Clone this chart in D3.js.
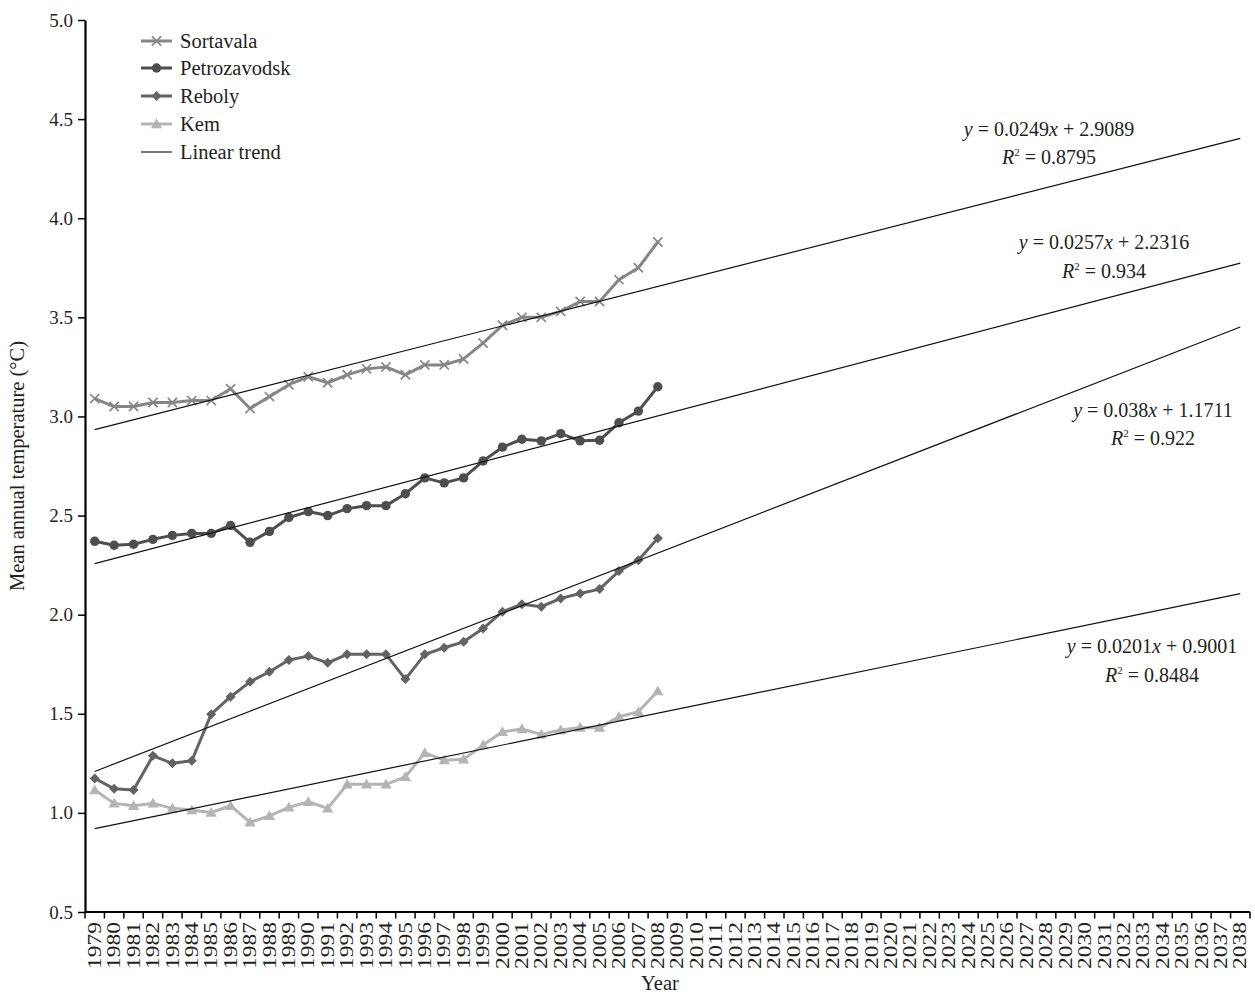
<!DOCTYPE html>
<html>
<head>
<meta charset="utf-8">
<script src="https://cdn.jsdelivr.net/npm/d3@7"></script>
<style>
  html, body { margin: 0; padding: 0; background: #fff; }
  svg { display: block; font-family: "Liberation Serif", "Times New Roman", serif; }
</style>
</head>
<body>
<svg id="chart" width="1255" height="996"></svg>
<script>
// Categories (years) shown on the x axis
const years = [
  "1979","1980","1981","1982","1983","1984","1985","1986","1987","1988",
  "1989","1990","1991","1992","1993","1994","1995","1996","1997","1998",
  "1999","2000","2001","2002","2003","2004","2005","2006","2007","2008",
  "2009","2010","2011","2012","2013","2014","2015","2016","2017","2018",
  "2019","2020","2021","2022","2023","2024","2025","2026","2027","2028",
  "2029","2030","2031","2032","2033","2034","2035","2036","2037","2038"
];

// Observed years (1979–2008)
const obsYears = years.slice(0, 30);

// Mean annual temperature (°C) per station, 1979–2008
const sortavala = [3.09, 3.05, 3.05, 3.07, 3.07, 3.08, 3.08, 3.14, 3.04, 3.10,
                   3.16, 3.20, 3.17, 3.21, 3.24, 3.25, 3.21, 3.26, 3.26, 3.29,
                   3.37, 3.46, 3.50, 3.50, 3.53, 3.58, 3.58, 3.69, 3.75, 3.88];
const petrozavodsk = [2.37, 2.35, 2.355, 2.38, 2.40, 2.41, 2.41, 2.45, 2.365, 2.42,
                      2.49, 2.52, 2.50, 2.535, 2.55, 2.55, 2.61, 2.69, 2.665, 2.69,
                      2.775, 2.845, 2.885, 2.877, 2.913, 2.877, 2.88, 2.968, 3.027, 3.15];
const reboly = [1.174, 1.122, 1.115, 1.288, 1.25, 1.263, 1.498, 1.586, 1.661, 1.712,
                1.771, 1.791, 1.757, 1.80, 1.80, 1.80, 1.675, 1.80, 1.833, 1.863,
                1.93, 2.015, 2.053, 2.04, 2.082, 2.107, 2.129, 2.22, 2.275, 2.385];
const kem = [1.115, 1.048, 1.036, 1.048, 1.023, 1.014, 1.002, 1.036, 0.952, 0.985,
             1.028, 1.056, 1.023, 1.144, 1.144, 1.144, 1.182, 1.303, 1.266, 1.27,
             1.342, 1.409, 1.423, 1.396, 1.418, 1.431, 1.43, 1.485, 1.51, 1.615];

// Linear trend coefficients (x = year index starting at 1)
const trendSlopes = [0.0249, 0.0257, 0.038, 0.0201];
const trendIntercepts = [2.9089, 2.2316, 1.1711, 0.9001];
const trendR2 = ["0.8795", "0.934", "0.922", "0.8484"];

// Y axis ticks
const yTicks = [0.5, 1.0, 1.5, 2.0, 2.5, 3.0, 3.5, 4.0, 4.5, 5.0];

const seriesNames = ["Sortavala", "Petrozavodsk", "Reboly", "Kem"];
const seriesValues = [sortavala, petrozavodsk, reboly, kem];
const seriesColors = ["#868686", "#4e4e4e", "#636363", "#b4b4b4"];
const seriesMarkers = ["cross", "circle", "diamond", "triangle"];

const svg = d3.select("#chart");
const plotLeft = 85, plotRight = 1250, plotTop = 20, plotBottom = 912;

const x = d3.scaleBand().domain(years).range([plotLeft, plotRight]).paddingInner(0).paddingOuter(0);
const xc = d => x(d) + x.bandwidth() / 2;
const y = d3.scaleLinear().domain([0.5, 5.0]).range([plotBottom, plotTop]);

// Marker drawing
function drawMarker(g, type, cx, cy, color) {
  if (type === "cross") {
    const s = 4.6;
    g.append("path")
      .attr("d", `M${cx - s},${cy - s}L${cx + s},${cy + s}M${cx - s},${cy + s}L${cx + s},${cy - s}`)
      .attr("stroke", color).attr("stroke-width", 1.7).attr("fill", "none");
  } else if (type === "circle") {
    g.append("circle").attr("cx", cx).attr("cy", cy).attr("r", 4.7).attr("fill", color);
  } else if (type === "diamond") {
    const s = 5;
    g.append("path")
      .attr("d", `M${cx},${cy - s}L${cx + s},${cy}L${cx},${cy + s}L${cx - s},${cy}Z`)
      .attr("fill", color);
  } else if (type === "triangle") {
    const s = 5.6;
    g.append("path")
      .attr("d", `M${cx},${cy - s}L${cx + s},${cy + s * 0.75}L${cx - s},${cy + s * 0.75}Z`)
      .attr("fill", color);
  }
}

// Data series
const dataG = svg.append("g");
seriesValues.forEach((vals, i) => {
  const pts = vals.map((v, j) => [xc(obsYears[j]), y(v)]);
  dataG.append("path")
    .attr("d", d3.line()(pts))
    .attr("fill", "none")
    .attr("stroke", seriesColors[i])
    .attr("stroke-width", 3)
    .attr("stroke-linejoin", "round");
  const mg = dataG.append("g");
  pts.forEach(p => drawMarker(mg, seriesMarkers[i], p[0], p[1], seriesColors[i]));
});

// Trend lines over the full category range
const trendG = svg.append("g");
trendSlopes.forEach((m, i) => {
  const b = trendIntercepts[i];
  const n0 = 1, n1 = years.length;
  trendG.append("line")
    .attr("x1", xc(years[n0 - 1])).attr("y1", y(m * n0 + b))
    .attr("x2", xc(years[n1 - 1])).attr("y2", y(m * n1 + b))
    .attr("stroke", "#111").attr("stroke-width", 1.2);
});

// Y axis
const yAxis = svg.append("g")
  .attr("transform", `translate(${plotLeft},0)`)
  .call(d3.axisLeft(y).tickValues(yTicks).tickFormat(d3.format(".1f")).tickSize(7).tickSizeOuter(0));
yAxis.select(".domain").attr("stroke", "#000").attr("stroke-width", 2.2);
yAxis.selectAll(".tick line").attr("stroke", "#000").attr("stroke-width", 1.5);
yAxis.selectAll(".tick text")
  .attr("font-family", "Liberation Serif, serif")
  .attr("font-size", 19).attr("fill", "#231f20").attr("x", -12);

// X axis with labels at category centres and ticks between categories
const xAxis = svg.append("g")
  .attr("transform", `translate(0,${plotBottom})`)
  .call(d3.axisBottom(x).tickSize(0).tickSizeOuter(0));
xAxis.select(".domain").attr("stroke", "#000").attr("stroke-width", 2.2)
  .attr("d", `M${plotLeft},0H${plotRight}`);
xAxis.selectAll(".tick text")
  .attr("font-family", "Liberation Serif, serif")
  .attr("font-size", 18).attr("fill", "#231f20")
  .attr("transform", "rotate(-90)")
  .attr("text-anchor", "end")
  .attr("x", -10).attr("y", 0).attr("dy", "0.34em")
  .attr("textLength", 47).attr("lengthAdjust", "spacingAndGlyphs");
const bounds = years.map(d => x(d)).concat([plotRight]);
xAxis.selectAll(".sep").data(bounds).enter().append("line")
  .attr("class", "sep")
  .attr("x1", d => d).attr("x2", d => d)
  .attr("y1", 0).attr("y2", 6.5)
  .attr("stroke", "#000").attr("stroke-width", 1.5);

// Axis titles
svg.append("text")
  .attr("x", 660).attr("y", 990)
  .attr("text-anchor", "middle")
  .attr("font-size", 20.5).attr("fill", "#231f20")
  .text("Year");
svg.append("text")
  .attr("transform", "translate(24,466) rotate(-90)")
  .attr("text-anchor", "middle")
  .attr("font-size", 20.5).attr("fill", "#231f20")
  .text("Mean annual temperature (°C)");

// Trend equations
const eqPos = [
  { cx: 1049, y1: 136, y2: 164 },
  { cx: 1104, y1: 249, y2: 278 },
  { cx: 1153, y1: 417, y2: 445 },
  { cx: 1152, y1: 653, y2: 682 }
];
const eqG = svg.append("g").attr("font-size", 20).attr("fill", "#231f20");
trendSlopes.forEach((m, i) => {
  const p = eqPos[i];
  const t1 = eqG.append("text").attr("x", p.cx).attr("y", p.y1).attr("text-anchor", "middle");
  t1.append("tspan").attr("font-style", "italic").text("y");
  t1.append("tspan").text(` = ${m}`);
  t1.append("tspan").attr("font-style", "italic").text("x");
  t1.append("tspan").text(` + ${trendIntercepts[i]}`);
  const t2 = eqG.append("text").attr("x", p.cx).attr("y", p.y2).attr("text-anchor", "middle");
  t2.append("tspan").attr("font-style", "italic").text("R");
  t2.append("tspan").attr("font-size", 11).attr("dy", -8).text("2");
  t2.append("tspan").attr("dy", 8).text(` = ${trendR2[i]}`);
});

// Legend
const legendNames = seriesNames.concat(["Linear trend"]);
const legendRows = [41, 68, 96, 124, 152];
const lg = svg.append("g");
legendNames.forEach((name, i) => {
  const ry = legendRows[i];
  if (i < 4) {
    lg.append("line").attr("x1", 141).attr("x2", 172).attr("y1", ry).attr("y2", ry)
      .attr("stroke", seriesColors[i]).attr("stroke-width", 3);
    drawMarker(lg, seriesMarkers[i], 156.5, ry, seriesColors[i]);
  } else {
    lg.append("line").attr("x1", 141).attr("x2", 172).attr("y1", ry).attr("y2", ry)
      .attr("stroke", "#555").attr("stroke-width", 1.6);
  }
  lg.append("text").attr("x", 180).attr("y", ry).attr("dy", "0.33em")
    .attr("font-size", 20.5).attr("fill", "#231f20").text(name);
});
</script>
</body>
</html>
